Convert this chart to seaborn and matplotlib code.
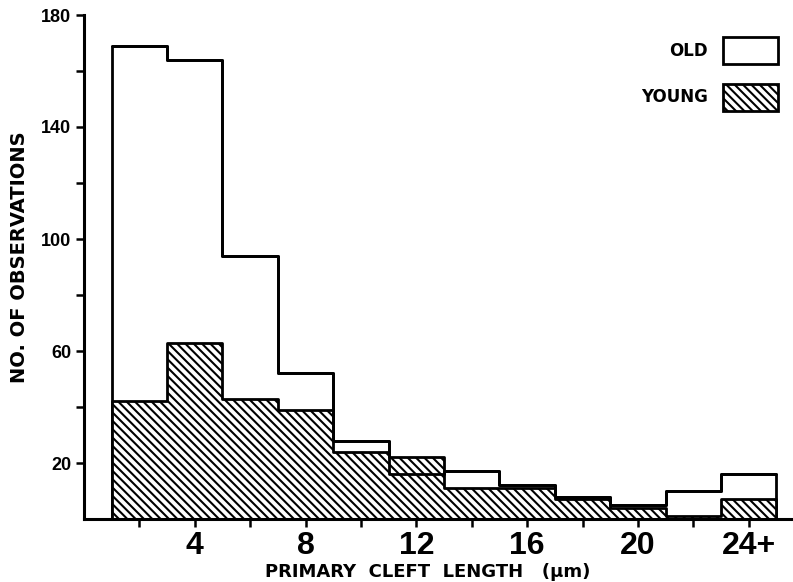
import matplotlib.pyplot as plt
import matplotlib.patches as patches
import seaborn as sns

# Histogram data (bins are 2 um wide)
bin_left = [1, 3, 5, 7, 9, 11, 13, 15, 17, 19, 21, 23]
bin_edges = [1, 3, 5, 7, 9, 11, 13, 15, 17, 19, 21, 23, 25]
old_counts = [169, 164, 94, 52, 28, 16, 17, 12, 8, 5, 10, 16]
young_counts = [42, 63, 43, 39, 24, 22, 11, 11, 7, 4, 1, 7]

y_major = [20, 60, 100, 140, 180]
y_minor = [40, 80, 120, 160]
x_major = [4, 8, 12, 16, 20, 24]
x_major_labels = ['4', '8', '12', '16', '20', '24+']
x_minor = [2, 6, 10, 14, 18, 22]

sns.set_style('ticks')
plt.rcParams['font.family'] = ['Liberation Sans', 'DejaVu Sans']
plt.rcParams['hatch.linewidth'] = 1.5
plt.rcParams['hatch.color'] = 'black'
# pure black text and axes like the printed figure
for key in ['text.color', 'axes.labelcolor', 'xtick.color', 'ytick.color',
            'axes.edgecolor']:
    plt.rcParams[key] = 'black'

fig = plt.figure(figsize=(7.93, 5.82), dpi=100)
ax = fig.add_axes([84 / 793, 63 / 582, 709 / 793, 504 / 582])

centres = [b + 1 for b in bin_left]
hatch = '\\\\\\\\'

# old: white step outline
sns.histplot(x=centres, weights=old_counts, bins=bin_edges, ax=ax, element='step',
             color='white', edgecolor='black', linewidth=2, alpha=1)
# young: hatched step fill
sns.histplot(x=centres, weights=young_counts, bins=bin_edges, ax=ax, element='step',
             color='white', edgecolor='black', linewidth=2, alpha=1,
             hatch=hatch)
# old outline redrawn on top
sns.histplot(x=centres, weights=old_counts, bins=bin_edges, ax=ax, element='step',
             fill=False, color='black', linewidth=2)

ax.set_xlim(0, 25.6)
ax.set_ylim(0, 180)
sns.despine(ax=ax)
for s in ['left', 'bottom']:
    ax.spines[s].set_linewidth(2.2)

ax.set_yticks(y_major)
ax.set_yticks(y_minor, minor=True)
ax.set_xticks(x_major)
ax.set_xticklabels(x_major_labels)
ax.set_xticks(x_minor, minor=True)
ax.tick_params(which='both', length=6, width=1.8, color='black')
ax.tick_params(axis='y', labelsize=13, pad=3)
ax.tick_params(axis='x', labelsize=23, pad=3)
for lbl in ax.get_yticklabels() + ax.get_xticklabels():
    lbl.set_fontweight('bold')

ax.set_ylabel('NO. OF OBSERVATIONS', fontsize=14, fontweight='bold',
              family=['DejaVu Sans'])
ax.yaxis.set_label_coords(-0.078, 0.52)
ax.set_xlabel('PRIMARY  CLEFT  LENGTH   (μm)', fontsize=13, fontweight='bold',
              family=['DejaVu Sans'])
ax.xaxis.set_label_coords(0.485, -0.088)

handles = [patches.Patch(facecolor='white', edgecolor='black', linewidth=2, label='OLD'),
           patches.Patch(facecolor='white', edgecolor='black', linewidth=2,
                         hatch=hatch, label='YOUNG')]
leg = ax.legend(handles=handles, loc='upper right', markerfirst=False,
                frameon=False, handlelength=3.3, handleheight=2.1,
                labelspacing=1.2, handletextpad=0.9, borderpad=0,
                borderaxespad=0, bbox_to_anchor=(778 / 793, 1 - 37 / 582),
                bbox_transform=fig.transFigure,
                prop={'size': 12, 'weight': 'bold', 'family': 'DejaVu Sans'})

fig.savefig('out.png', dpi=100)
